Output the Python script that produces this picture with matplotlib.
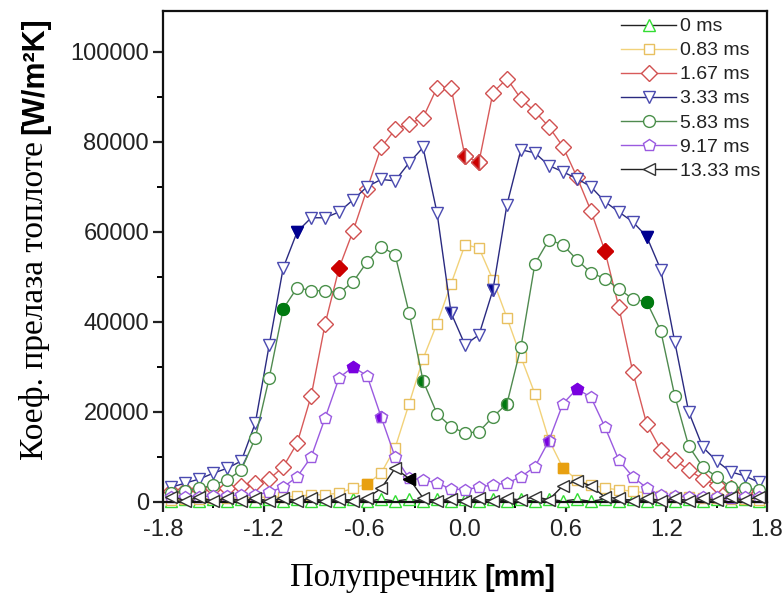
import numpy as np
import matplotlib
matplotlib.use("Agg")
import matplotlib.pyplot as plt
from matplotlib.ticker import MultipleLocator

# radial positions (mm), 1/12 mm step
radius = np.arange(-21, 22) / 12.0

h_0ms = [200, 600, 150, 650, 200, 600, 150, 650, 200, 600, 150, 650, 200, 600,
         150, 650, 200, 600, 150, 650, 200, 600, 150, 650, 200, 600, 150, 650,
         200, 600, 150, 650, 200, 600, 150, 650, 200, 600, 150, 650, 200, 600, 150]
h_083ms = [500, 600, 700, 800, 900, 1000, 1000, 1100, 1100, 1300, 1600, 1600, 2000,
           3100, 4000, 6400, 12000, 21800, 31800, 39600, 48400, 57100, 56400, 49300,
           40900, 32200, 24000, 13800, 7600, 4900, 3800, 3100, 2700, 2400, 2000, 1300,
           1100, 1000, 900, 800, 700, 600, 500]
h_167ms = [2500, 2700, 2800, 3000, 3200, 3600, 4200, 5100, 7800, 13100, 23600, 39600,
           52000, 60200, 69500, 78700, 82700, 84000, 85300, 92000, 92000, 76700, 75500,
           90900, 94000, 89500, 86700, 83300, 78900, 72200, 64700, 55800, 43300, 28900,
           17300, 11600, 9300, 7100, 5100, 3800, 3000, 2500, 2000]
h_333ms = [3300, 4200, 5100, 6400, 7500, 9100, 17500, 34900, 52000, 60000, 63100, 63100,
           64400, 67100, 70000, 71600, 71300, 75300, 78700, 64200, 42000, 34900, 37100,
           47100, 66000, 78200, 77500, 74700, 73300, 71800, 70000, 66700, 64400, 62200,
           58900, 51600, 35600, 20000, 12200, 9100, 6700, 5800, 4400]
h_583ms = [2000, 2500, 3000, 3800, 4900, 7100, 14200, 27600, 42900, 47600, 46900, 46900,
           46400, 48900, 53300, 56700, 54900, 42000, 26900, 19600, 16700, 15300, 15600,
           18900, 21800, 34400, 52900, 58200, 57100, 53800, 50900, 49600, 47300, 45100,
           44400, 38000, 23600, 12400, 7800, 5600, 3300, 3100, 2700]
h_917ms = [1000, 1100, 1200, 1300, 1400, 1500, 1600, 2200, 3300, 5600, 10000, 18700,
           27600, 30000, 28000, 18900, 10000, 5300, 4900, 4200, 2900, 2700, 3300, 3800,
           4200, 5600, 7800, 13600, 21800, 25100, 23300, 16700, 9300, 5600, 3100, 1500,
           1300, 1200, 1100, 1000, 900, 1000, 1200]
h_1333ms = [1200, 300, 1000, 200, 900, 300, 800, 200, 900, 300, 800, 200, 700, 300,
            900, 3000, 7500, 5200, 900, 200, 700, 200, 800, 300, 900, 400, 1200, 500,
            3600, 4700, 3600, 1100, 800, 300, 900, 300, 800, 300, 900, 400, 1000, 400, 1100]

labels = ["0 ms", "0.83 ms", "1.67 ms", "3.33 ms", "5.83 ms", "9.17 ms", "13.33 ms"]
series = [h_0ms, h_083ms, h_167ms, h_333ms, h_583ms, h_917ms, h_1333ms]
markers = ["^", "s", "D", "v", "o", "p", "<"]
line_colors = ["#222222", "#f2d27a", "#d85a5a", "#2a2a80", "#4f8a4f", "#9a5ae0", "#222222"]
edge_colors = ["#33dd33", "#e8c060", "#d05050", "#4a4ab0", "#4a904a", "#9a5ae0", "#333333"]
fill_colors = ["#33dd33", "#e8a010", "#cc0000", "#000090", "#007a10", "#7a00e0", "#000000"]
msizes = [8, 7.5, 8.5, 9, 8.5, 9, 9]

# solid / half-solid markers (indices into radius)
full_idx = [[], [14, 28], [12, 31], [9, 34], [8, 34], [13, 29], [17]]
half_idx = [[], [], [21, 22], [20, 23], [18, 24], [15, 27], []]

plt.rcParams["font.family"] = ["Liberation Sans", "DejaVu Sans"]

fig = plt.figure(figsize=(7.83, 5.96), dpi=100)
ax = fig.add_axes([163 / 783, 1 - 502 / 596, (767 - 163) / 783, (502 - 11) / 596])

order = [0, 6, 1, 5, 4, 2, 3]
for i in order:
    y = np.array(series[i])
    ax.plot(radius, y, color=line_colors[i], lw=1.0, marker=markers[i],
            ms=msizes[i], mfc="white", mec=edge_colors[i], mew=1.0,
            label=labels[i], clip_on=False, zorder=2 + i * 0.1)
    if full_idx[i]:
        ax.plot(radius[full_idx[i]], y[full_idx[i]], ls="none", marker=markers[i],
                ms=msizes[i], mfc=fill_colors[i], mec=fill_colors[i], mew=1.0,
                clip_on=False, zorder=3)
    if half_idx[i]:
        ax.plot(radius[half_idx[i]], y[half_idx[i]], ls="none", marker=markers[i],
                ms=msizes[i], fillstyle="left", mfc=fill_colors[i],
                markerfacecoloralt="white", mec=edge_colors[i], mew=1.0,
                clip_on=False, zorder=3)

ax.set_xlim(-1.8, 1.8)
ax.set_ylim(0, 109000)
ax.xaxis.set_minor_locator(MultipleLocator(0.3))
ax.yaxis.set_major_locator(MultipleLocator(20000))
ax.yaxis.set_minor_locator(MultipleLocator(10000))
ax.set_xticks(np.arange(-1.8, 1.81, 0.6))
ax.set_xticklabels(["-1.8", "-1.2", "-0.6", "0.0", "0.6", "1.2", "1.8"])
ax.tick_params(which="major", direction="out", length=7, width=1.6,
               labelsize=17, colors="#222222", pad=3)
ax.tick_params(which="minor", direction="out", length=4, width=1.4)
ax.tick_params(axis="x", pad=5)
for s in ax.spines.values():
    s.set_linewidth(1.6)
    s.set_color("#111111")

handles, labs = ax.get_legend_handles_labels()
idx = [labs.index(l) for l in labels]
leg = ax.legend([handles[k] for k in idx], [labs[k] for k in idx],
                loc="upper right", bbox_to_anchor=(1.0, 1.0), frameon=False,
                fontsize=14, handlelength=2.8, handletextpad=0.2,
                labelspacing=0.33, borderaxespad=0.0, borderpad=0.35)
for t in leg.get_texts():
    t.set_color("#222222")

# axis titles: Cyrillic part in serif, units in sans
fig.canvas.draw()
r = fig.canvas.get_renderer()
W, H = 783, 596

xl1 = fig.text(290 / W, 1 - 578 / H, "Полупречник", family="Liberation Serif",
               fontsize=23.5, ha="left", va="center")
bb = xl1.get_window_extent(r)
fig.text((bb.x1 + 7) / W, 1 - 578 / H, "[mm]", family="Liberation Sans",
         fontsize=21, fontweight="bold", ha="left", va="center")

yl1 = fig.text(35 / W, 1 - 460 / H, "Коеф. прелаза топлоте", family="Liberation Serif",
               fontsize=24, ha="left", va="center", rotation=90, rotation_mode="anchor")
bb = yl1.get_window_extent(r)
fig.text(35 / W, (bb.y1 + 7) / H, "[W/m²K]", family="Liberation Sans",
         fontsize=22, fontweight="bold", ha="left", va="center",
         rotation=90, rotation_mode="anchor")

fig.savefig("out.png", dpi=100)
